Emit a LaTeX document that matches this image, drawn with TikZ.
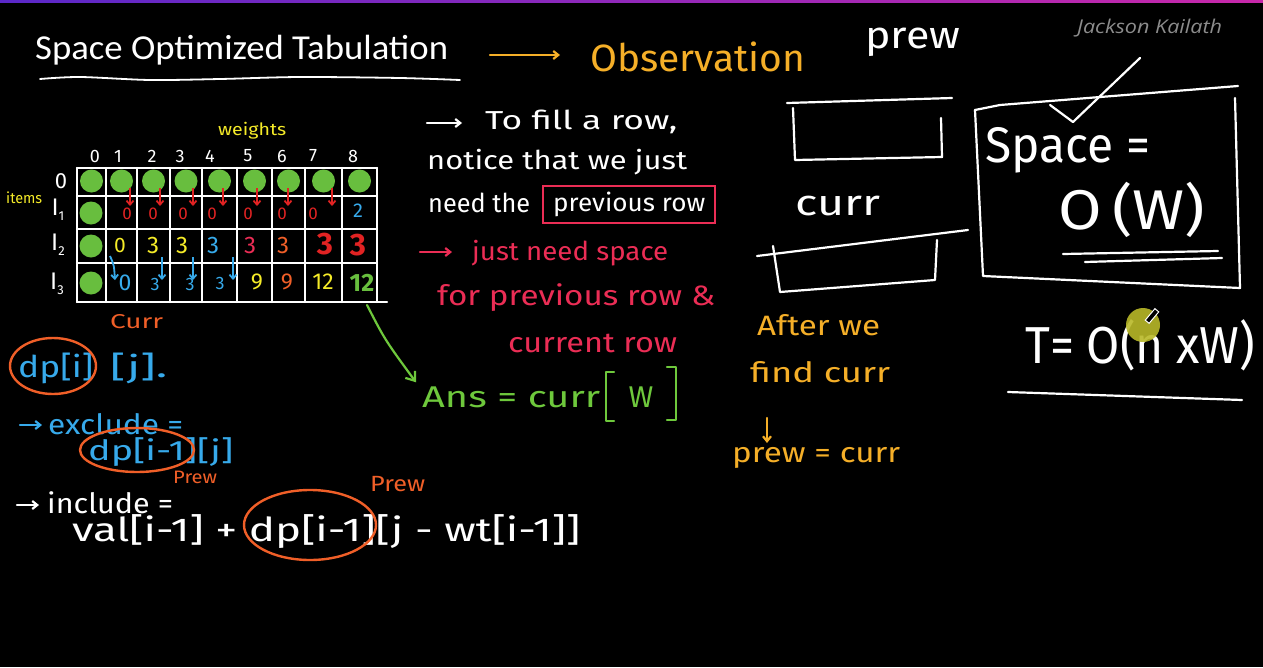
\documentclass[tikz,border=0pt]{standalone}
\usepackage{fontspec}
\usepackage{graphicx}
\setmainfont{Fira Sans}
\newfontfamily\hfont{Fira Sans}
\newfontfamily\tfont{Carlito}
\newfontfamily\wfont{Open Sans}
\usetikzlibrary{arrows.meta,calc}
\definecolor{grn}{RGB}{104,190,62}
\definecolor{ansgrn}{RGB}{110,200,60}
\definecolor{redc}{RGB}{225,35,35}
\definecolor{pinkc}{RGB}{235,45,85}
\definecolor{bluec}{RGB}{55,170,235}
\definecolor{yelc}{RGB}{245,235,40}
\definecolor{orc}{RGB}{240,95,40}
\definecolor{goldc}{RGB}{245,175,40}
\definecolor{wmc}{RGB}{140,140,140}
\definecolor{hlc}{RGB}{185,185,40}
\definecolor{barl}{RGB}{90,40,200}
\definecolor{barr}{RGB}{200,40,170}
\newcommand{\Isub}[1]{I\raisebox{-5pt}{\fontsize{13}{13}\selectfont #1}}
\newcommand{\sx}[2]{\resizebox{#1pt}{\height}{#2}}
\begin{document}
\begin{tikzpicture}[x=1pt,y=-1pt,
  hw/.style={font=\hfont\fontsize{#1}{#1}\selectfont, inner sep=0pt, anchor=west},
  hc/.style={font=\hfont\fontsize{#1}{#1}\selectfont, inner sep=0pt, anchor=center},
  pen/.style={line width=2.2pt, line cap=round, line join=round},
  gridline/.style={white, line width=2.2pt, line cap=round},
  dot/.style={circle, fill=grn, minimum size=23pt, inner sep=0pt},
  harr/.style={pen, -{Straight Barb[length=5pt,width=8pt]}},
  ring/.style={draw=orc, line width=2.4pt}
]
\fill[black] (0,0) rectangle (1263,667);
\useasboundingbox (0,0) rectangle (1263,667);
\shade[left color=barl, right color=barr] (0,0) rectangle (1263,2.5);

% ---------- title ----------
\node[anchor=west, inner sep=0pt, text=white, font=\tfont\fontsize{35}{35}\selectfont] (title) at (35,50) {\sx{413}{Space Optimized Tabulation}};
\draw[white, pen, line width=1.8pt] plot[smooth] coordinates {(40,79) (80,77) (150,80) (220,79) (300,77) (400,78) (460,80)};
\coordinate (oa1) at (490,55);
\coordinate (oa2) at (560,55);
\draw[goldc, harr] (oa1) -- (oa2);
\node[hw=38, text=goldc] (obs) at (590,57) {\sx{215}{Observation}};
\node[hw=38, text=white] (prewtop) at (865,42) {\sx{95}{prew}};
\node[anchor=west, inner sep=0pt, text=wmc, font=\wfont\itshape\fontsize{19}{19}\selectfont] (wm) at (1077,28) {\sx{145}{Jackson Kailath}};

% ---------- table ----------
\foreach \x in {77,106,137,170,202,237,272,305,342,377} \draw[gridline] (\x,168) -- (\x,302);
\foreach \y in {168,196,229,263} \draw[gridline] (77,\y) -- (377,\y);
\draw[gridline] (77,302) -- (387,302);
\foreach \x [count=\i] in {91.5,121.5,153.5,186,219.5,254.5,288.5,323.5,359.5}
  \node[dot] (d0\i) at (\x,181) {};
\node[dot] (d1) at (91,213) {};
\node[dot] (d2) at (91,246) {};
\node[dot] (d3) at (91,283) {};
\node[hw=17, text=yelc] (weights) at (218,131) {\sx{68}{weights}};
\node[hw=15, text=yelc] (items) at (6,198) {\sx{36}{items}};
\foreach \x/\t [count=\i] in {95/0,118/1,152/2,180/3,210/4,248/5,282/6,313/7,353/8}
  \node[hc=18, text=white] (c\i) at (\x,156) {\t};
\node[hc=22, text=white] (r0) at (61,181) {0};
\node[hc=24, text=white] (r1) at (58,210) {\Isub{1}};
\node[hc=24, text=white] (r2) at (58,245) {\Isub{2}};
\node[hc=24, text=white] (r3) at (57,284) {\Isub{3}};
% row I1
\foreach \x [count=\i] in {130,160,193,223,257,288,332}
  \draw[redc, line width=1.8pt, -{Straight Barb[length=4pt,width=7pt]}] (\x,188) -- (\x,206);
\foreach \x [count=\i] in {127,153,183,212,248,282,313}
  \node[hc=17, text=redc] (a\i) at (\x,214) {0};
\node[hc=20, text=bluec] (a8) at (358,211) {2};
% row I2
\node[hc=21, text=yelc] (b1) at (120,245) {0};
\node[hc=24, text=yelc] (b2) at (153,245) {3};
\node[hc=24, text=yelc] (b3) at (182,245) {3};
\node[hc=24, text=bluec] (b4) at (213,245) {3};
\node[hc=24, text=pinkc] (b5) at (250,245) {3};
\node[hc=24, text=orc] (b6) at (283,245) {3};
\node[hc=30, text=redc, font=\hfont\bfseries\fontsize{31}{31}\selectfont] (b7) at (325,244) {3};
\node[hc=30, text=redc, font=\hfont\bfseries\fontsize{31}{31}\selectfont] (b8) at (358,245) {3};
% row I3
\draw[bluec, line width=1.8pt, -{Straight Barb[length=4pt,width=7pt]}] (110,256) .. controls (114,265) .. (115,280);
\foreach \x in {162,193,233}
  \draw[bluec, line width=1.8pt, -{Straight Barb[length=4pt,width=7pt]}] (\x,257) -- (\x,280);
\node[hc=23, text=bluec] (e1) at (125,283) {0};
\node[hc=18, text=bluec] (e2) at (155,284) {3};
\node[hc=18, text=bluec] (e3) at (190,284) {3};
\node[hc=18, text=bluec] (e4) at (220,283) {3};
\node[hc=23, text=yelc] (e5) at (257,282) {9};
\node[hc=23, text=orc] (e6) at (287,282) {9};
\node[hc=23, text=yelc] (e7) at (323,282) {12};
\node[hc=25, text=grn, font=\hfont\bfseries\fontsize{25}{25}\selectfont] (e8) at (362,283) {12};
\coordinate (tabcorner) at (367,305);

% ---------- left formulas ----------
\node[hw=20, text=orc] (curr1) at (110,322) {\sx{53}{Curr}};
\node[hw=30, text=bluec] (dpi) at (18,368) {\sx{75}{dp[i]}};
\node[hw=30, text=bluec] (dpj) at (110,368) {\sx{57}{[j].}};
\draw[ring] (53,366) ellipse [x radius=43, y radius=28];
\draw[bluec, harr] (20,425) -- (42,425);
\node[hw=28, text=bluec] (excl) at (48,424) {\sx{135}{exclude =}};
\node[hw=28, text=bluec] (exdp) at (88,452) {\sx{145}{dp[i-1][j]}};
\draw[ring] (137,450) ellipse [x radius=57, y radius=22];
\node[hw=18, text=orc] (prew1) at (173,477) {\sx{44}{Prew}};
\draw[white, harr] (17,505) -- (39,505);
\node[hw=28, text=white] (incl) at (47,503) {\sx{126}{include =}};
\node[hw=33, text=white] (inexp) at (72,532) {\sx{508}{val[i-1] + dp[i-1][j - wt[i-1]]}};
\draw[ring] (310,525) ellipse [x radius=66, y radius=35];
\node[hw=22, text=orc] (prew2) at (370,484) {\sx{55}{Prew}};

% ---------- middle notes ----------
\draw[white, harr] (427,123) -- (462,123);
\node[hw=26, text=white] (n1) at (485,122) {\sx{192}{To fill a row,}};
\node[hw=26, text=white] (n2) at (427,162) {\sx{260}{notice that we just}};
\node[hw=26, text=white] (n3) at (428,203) {\sx{102}{need the}};
\node[hw=25, text=white] (n4) at (553,204) {\sx{152}{previous row}};
\draw[pinkc, line width=2pt] (543,186) rectangle (715,223);
\draw[pinkc, harr] (420,252) -- (452,252);
\node[hw=26, text=pinkc] (p1) at (472,253) {\sx{196}{just need space}};
\node[hw=28, text=pinkc] (p2) at (437,298) {\sx{278}{for previous row \&}};
\node[hw=28, text=pinkc] (p3) at (508,343) {\sx{169}{current row}};
\node[hw=30, text=ansgrn] (ans) at (422,397) {\sx{178}{Ans = curr}};
\draw[ansgrn, pen] (614,372) -- (606,372) -- (606,421) -- (614,421);
\node[hc=30, text=ansgrn] (answ) at (641,397) {W};
\draw[ansgrn, pen] (667,367) -- (676,367) -- (676,420) -- (667,420);
\draw[ansgrn, pen, -{Straight Barb[length=8pt,width=12pt]}] (tabcorner) .. controls (385,340) .. ($(ans.north west)+(-6,-4)$);

% ---------- right side ----------
\draw[white, pen] (787,103) -- (952,98);
\draw[white, pen] (793,108) -- (795,160) -- (942,157) -- (941,118);
\node[hw=36, text=white] (currlbl) at (795,206) {\sx{85}{curr}};
\draw[white, pen] (757,256) -- (968,230);
\draw[white, pen] (773,246) -- (780,292) -- (935,280) -- (937,240);
\draw[white, pen] (975,110) -- (1000,105) -- (1238,86);
\draw[white, pen] (975,110) -- (983,276) -- (1240,288) -- (1235,98);
\node[hw=50, text=white] (space) at (985,150) {\sx{165}{Space =}};
\node[hw=56, text=white] (ow) at (1058,210) {\sx{147}{O\,(W)}};
\draw[white, pen] (1063,254) -- (1218,251);
\draw[white, pen] (1085,262) -- (1222,258);
\draw[white, pen] (1050,105) -- (1073,122) -- (1140,58);
\node[hw=52, text=white] (tnode) at (1025,345) {\sx{230}{T= O(n xW)}};
\draw[white, pen] (1008,392) -- (1242,400);
\fill[hlc, opacity=0.9] (1143,325) circle [radius=17];
\node[draw=white, fill=black, line width=1pt, minimum width=15pt, minimum height=5pt, inner sep=0pt, rotate=50] (pencil) at (1152,316) {};
\node[hw=28, text=goldc] (after1) at (757,325) {\sx{123}{After we}};
\node[hw=28, text=goldc] (after2) at (750,372) {\sx{140}{find curr}};
\node[hw=28, text=goldc] (after3) at (732,458) {\sx{168}{prew = curr}};
\coordinate (dstart) at (767,418);
\coordinate (dend) at (767,443);
\draw[goldc, harr] (dstart) -- (dend);
\end{tikzpicture}
\end{document}
